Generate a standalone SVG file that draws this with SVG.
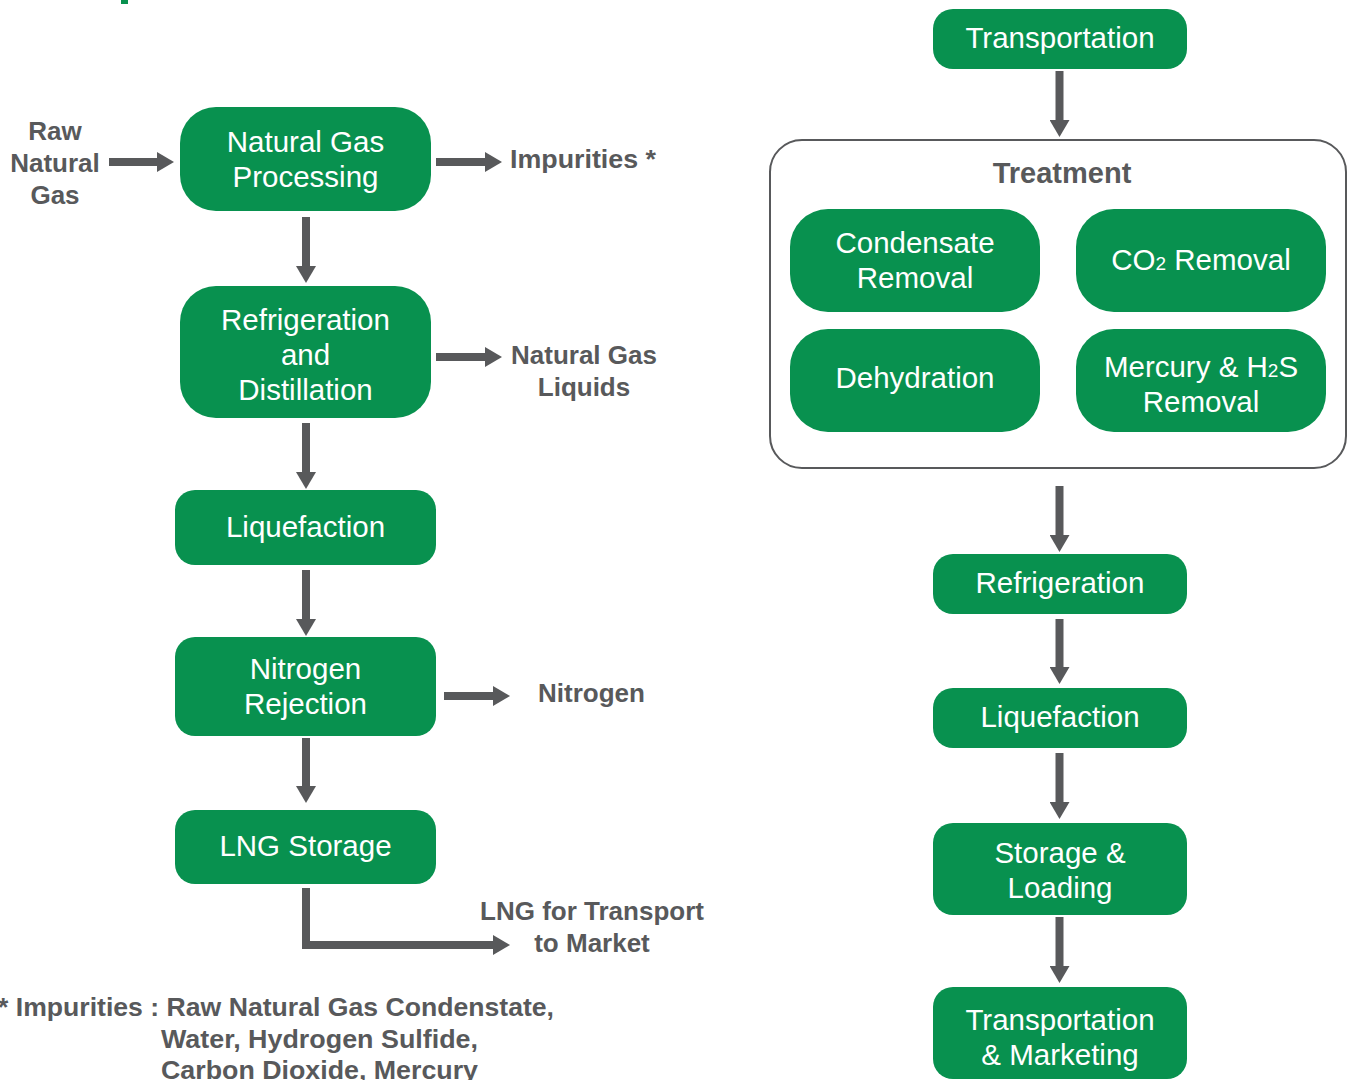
<svg xmlns="http://www.w3.org/2000/svg" width="1349" height="1080" viewBox="0 0 1349 1080">
  <defs>
    <style>
      .node { fill: #08914f; }
      .nt { fill: #ffffff; font-family: "Liberation Sans", Arial, sans-serif; font-size: 29.5px; text-anchor: middle; }
      .lbl { fill: #58595b; font-family: "Liberation Sans", Arial, sans-serif; font-size: 26px; font-weight: bold; }
      .mid { text-anchor: middle; }
      .conn { fill: none; stroke: #58595b; stroke-width: 8; stroke-linejoin: miter; marker-end: url(#head); }
      .frame { fill: #ffffff; stroke: #58595b; stroke-width: 2; }
      .sub { font-size: 19px; }
    </style>
    <marker id="head" markerUnits="userSpaceOnUse" markerWidth="17" markerHeight="20" refX="0" refY="10" orient="auto">
      <path d="M0,0 L17,10 L0,20 z" fill="#58595b"/>
    </marker>
  </defs>

  <rect width="1349" height="1080" fill="#ffffff"/>
  <!-- heading fragment at the top edge -->
  <rect x="121" y="0" width="7" height="4" fill="#08914f"/>

  <!-- connectors -->
  <g id="connectors">
    <path class="conn" d="M109,162 H157"/>
    <path class="conn" d="M436,162 H485"/>
    <path class="conn" d="M436,357 H485"/>
    <path class="conn" d="M444,696 H493"/>
    <path class="conn" d="M306,217 V266"/>
    <path class="conn" d="M306,423 V472"/>
    <path class="conn" d="M306,570 V619"/>
    <path class="conn" d="M306,738 V786"/>
    <path class="conn" d="M306,888 V945 H493"/>
    <path class="conn" d="M1059.5,71 V120"/>
    <path class="conn" d="M1059.5,486 V535"/>
    <path class="conn" d="M1059.5,619 V667"/>
    <path class="conn" d="M1059.5,753 V802"/>
    <path class="conn" d="M1059.5,917 V966"/>
  </g>

  <!-- left chain labels -->
  <g id="raw-gas">
    <text class="lbl mid" x="55" y="140">Raw</text>
    <text class="lbl mid" x="55" y="172">Natural</text>
    <text class="lbl mid" x="55" y="204">Gas</text>
  </g>
  <g id="impurities"><text class="lbl" x="510" y="168" textLength="146" lengthAdjust="spacingAndGlyphs">Impurities *</text></g>
  <g id="ngl">
    <text class="lbl mid" x="584" y="364">Natural Gas</text>
    <text class="lbl mid" x="584" y="396">Liquids</text>
  </g>
  <g id="nitrogen"><text class="lbl" x="538" y="702">Nitrogen</text></g>
  <g id="lng-market">
    <text class="lbl mid" x="592" y="920">LNG for Transport</text>
    <text class="lbl mid" x="592" y="952">to Market</text>
  </g>

  <!-- left chain nodes -->
  <g id="ng-processing">
    <rect class="node" x="180" y="107" width="251" height="104" rx="36"/>
    <text class="nt" x="305.5" y="152">Natural Gas</text>
    <text class="nt" x="305.5" y="187">Processing</text>
  </g>
  <g id="refrig-distill">
    <rect class="node" x="180" y="286" width="251" height="132" rx="36"/>
    <text class="nt" x="305.5" y="330">Refrigeration</text>
    <text class="nt" x="305.5" y="365">and</text>
    <text class="nt" x="305.5" y="400">Distillation</text>
  </g>
  <g id="liquefaction-l">
    <rect class="node" x="175" y="490" width="261" height="75" rx="20"/>
    <text class="nt" x="305.5" y="537">Liquefaction</text>
  </g>
  <g id="nitrogen-rejection">
    <rect class="node" x="175" y="637" width="261" height="99" rx="20"/>
    <text class="nt" x="305.5" y="679">Nitrogen</text>
    <text class="nt" x="305.5" y="714">Rejection</text>
  </g>
  <g id="lng-storage">
    <rect class="node" x="175" y="810" width="261" height="74" rx="20"/>
    <text class="nt" x="305.5" y="856">LNG Storage</text>
  </g>

  <!-- footnote -->
  <g id="footnote">
    <text class="lbl" x="-2" y="1016" textLength="556" lengthAdjust="spacingAndGlyphs">* Impurities : Raw Natural Gas Condenstate,</text>
    <text class="lbl" x="161" y="1048" textLength="317" lengthAdjust="spacingAndGlyphs">Water, Hydrogen Sulfide,</text>
    <text class="lbl" x="161" y="1079" textLength="317" lengthAdjust="spacingAndGlyphs">Carbon Dioxide, Mercury</text>
  </g>

  <!-- right chain -->
  <g id="transportation">
    <rect class="node" x="933" y="9" width="254" height="60" rx="20"/>
    <text class="nt" x="1060" y="48">Transportation</text>
  </g>

  <g id="treatment">
    <rect class="frame" x="770" y="140" width="576" height="328" rx="32"/>
    <text class="lbl mid" x="1062" y="183" style="font-size:29px">Treatment</text>
    <g id="condensate-removal">
      <rect class="node" x="790" y="209" width="250" height="103" rx="38"/>
      <text class="nt" x="915" y="253">Condensate</text>
      <text class="nt" x="915" y="288">Removal</text>
    </g>
    <g id="co2-removal">
      <rect class="node" x="1076" y="209" width="250" height="103" rx="38"/>
      <text class="nt" x="1201" y="270">CO<tspan class="sub">2</tspan> Removal</text>
    </g>
    <g id="dehydration">
      <rect class="node" x="790" y="329" width="250" height="103" rx="38"/>
      <text class="nt" x="915" y="388">Dehydration</text>
    </g>
    <g id="mercury-h2s">
      <rect class="node" x="1076" y="329" width="250" height="103" rx="38"/>
      <text class="nt" x="1201" y="377">Mercury &amp; H<tspan class="sub">2</tspan>S</text>
      <text class="nt" x="1201" y="412">Removal</text>
    </g>
  </g>

  <g id="refrigeration">
    <rect class="node" x="933" y="554" width="254" height="60" rx="20"/>
    <text class="nt" x="1060" y="593">Refrigeration</text>
  </g>
  <g id="liquefaction-r">
    <rect class="node" x="933" y="688" width="254" height="60" rx="20"/>
    <text class="nt" x="1060" y="727">Liquefaction</text>
  </g>
  <g id="storage-loading">
    <rect class="node" x="933" y="823" width="254" height="92" rx="20"/>
    <text class="nt" x="1060" y="863">Storage &amp;</text>
    <text class="nt" x="1060" y="898">Loading</text>
  </g>
  <g id="transport-marketing">
    <rect class="node" x="933" y="987" width="254" height="92" rx="20"/>
    <text class="nt" x="1060" y="1030">Transportation</text>
    <text class="nt" x="1060" y="1065">&amp; Marketing</text>
  </g>
</svg>
